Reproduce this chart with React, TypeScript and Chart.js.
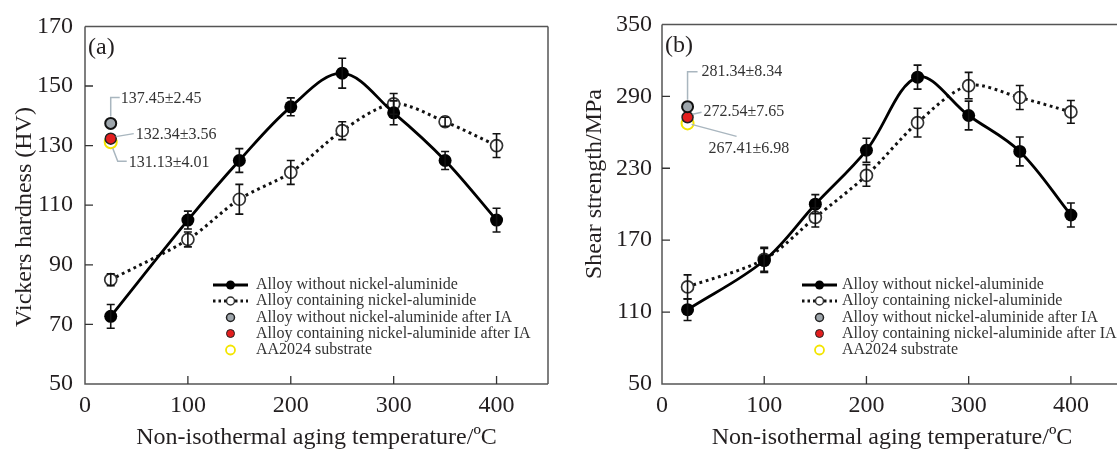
import React, { useEffect, useRef } from 'react';
import { Chart, registerables } from 'chart.js';

Chart.register(...registerables);

// ---------- data ----------
const temperatures = [25, 100, 150, 200, 250, 300, 350, 400];

const hvWithout = [72.7, 105, 125, 143, 154.3, 141, 125, 105];
const hvWithoutErr = [4, 3, 4, 3, 5, 4, 3, 4];
const hvContaining = [85, 98.5, 112, 121, 135, 144, 138, 130];
const hvContainingErr = [2, 2.5, 5, 4, 3, 3.5, 1.5, 4];
const hvAfterIA = [137.45, 132.34, 131.13];
const hvAfterIALabels = ['137.45±2.45', '132.34±3.56', '131.13±4.01'];

const ssWithout = [112, 153, 200, 245, 306, 274, 244, 191];
const ssWithoutErr = [9, 10, 8, 10, 10, 12, 12, 10];
const ssContaining = [131, 154, 189, 224, 268, 299, 289, 277];
const ssContainingErr = [10, 10, 8, 9, 12, 11, 10, 9.5];
const ssAfterIA = [281.34, 272.54, 267.41];
const ssAfterIALabels = ['281.34±8.34', '272.54±7.65', '267.41±6.98'];

const iaTemperature = 25;
const xTickValues = [0, 100, 200, 300, 400];
const hvTickValues = [50, 70, 90, 110, 130, 150, 170];
const ssTickValues = [50, 110, 170, 230, 290, 350];

const legendLabels = [
  'Alloy without nickel-aluminide',
  'Alloy containing nickel-aluminide',
  'Alloy without nickel-aluminide after IA',
  'Alloy containing nickel-aluminide after IA',
  'AA2024 substrate',
];

const xTitle = 'Non-isothermal aging temperature/ºC';

// ---------- styles ----------
const SERIF = "'Liberation Serif', 'Times New Roman', serif";
const TEXT = '#231f20';
const FRAME = '#555';
const LEADER = '#a9b6bf';
const GRAY_FILL = '#9ea6ac';
const RED_FILL = '#e31e1e';
const YELLOW = '#f3e500';

type Annot = { pts: [number, number][]; text: [number, number] };

type PanelCfg = {
  width: number;
  yMin: number;
  yMax: number;
  yTicks: number[];
  without: number[];
  withoutErr: number[];
  containing: number[];
  containingErr: number[];
  ia: number[];
  iaLabels: string[];
  yTitle: string;
  yTitleX: number;
  yTitleY: number;
  panelLabel: string;
  yAxisWidth: number;
  tickPad: number;
  padRight: number;
  showRight: boolean;
  legendX: number;
  legendTextGap: number;
  annots: Annot[];
};

function makeDecor(cfg: PanelCfg) {
  return {
    id: 'decor',
    afterDatasetsDraw(chart: any) {
      const { ctx, scales } = chart;
      const x = scales.x;
      const y = scales.y;
      ctx.save();
      ctx.strokeStyle = '#111';
      ctx.lineWidth = 1.6;
      const groups = [
        [cfg.without, cfg.withoutErr],
        [cfg.containing, cfg.containingErr],
      ];
      groups.forEach(([vals, errs]) => {
        temperatures.forEach((t, i) => {
          const px = x.getPixelForValue(t);
          const top = y.getPixelForValue(vals[i] + errs[i]);
          const bot = y.getPixelForValue(vals[i] - errs[i]);
          ctx.beginPath();
          ctx.moveTo(px, top);
          ctx.lineTo(px, bot);
          ctx.moveTo(px - 4, top);
          ctx.lineTo(px + 4, top);
          ctx.moveTo(px - 4, bot);
          ctx.lineTo(px + 4, bot);
          ctx.stroke();
        });
      });
      ctx.restore();
    },
    afterDraw(chart: any) {
      const { ctx, chartArea: a, scales } = chart;
      const x = scales.x;
      const y = scales.y;
      ctx.save();
      ctx.strokeStyle = FRAME;
      ctx.lineWidth = 1.5;
      ctx.beginPath();
      if (cfg.showRight) {
        ctx.moveTo(a.right, a.top);
        ctx.lineTo(a.right, a.bottom);
      }
      ctx.moveTo(a.left, a.top);
      ctx.lineTo(a.right, a.top);
      ctx.moveTo(a.left, a.top);
      ctx.lineTo(a.left, a.bottom);
      ctx.lineTo(a.right, a.bottom);
      ctx.stroke();
      ctx.strokeStyle = '#333';
      ctx.lineWidth = 1.3;
      ctx.beginPath();
      xTickValues.forEach((v) => {
        if (v === 0) return;
        const px = x.getPixelForValue(v);
        ctx.moveTo(px, a.bottom);
        ctx.lineTo(px, a.bottom - 8);
      });
      cfg.yTicks.forEach((v) => {
        if (v === cfg.yMin || v === cfg.yMax) return;
        const py = y.getPixelForValue(v);
        ctx.moveTo(a.left, py);
        ctx.lineTo(a.left + 8, py);
      });
      ctx.stroke();

      ctx.fillStyle = TEXT;
      ctx.font = `24px ${SERIF}`;
      ctx.textAlign = 'left';
      ctx.textBaseline = 'middle';
      ctx.fillText(cfg.panelLabel, a.left + 3, a.top + 21);

      ctx.save();
      ctx.translate(cfg.yTitleX, cfg.yTitleY);
      ctx.rotate(-Math.PI / 2);
      ctx.textAlign = 'center';
      ctx.textBaseline = 'middle';
      ctx.font = `24px ${SERIF}`;
      ctx.fillText(cfg.yTitle, 0, 0);
      ctx.restore();

      const cx = x.getPixelForValue(iaTemperature);
      ctx.font = `16px ${SERIF}`;
      ctx.textAlign = 'left';
      ctx.textBaseline = 'middle';
      cfg.annots.forEach((an, i) => {
        const cy = y.getPixelForValue(cfg.ia[i]);
        ctx.strokeStyle = LEADER;
        ctx.lineWidth = 1.5;
        ctx.beginPath();
        an.pts.forEach(([dx, dy], k) => {
          if (k === 0) ctx.moveTo(cx + dx, cy + dy);
          else ctx.lineTo(cx + dx, cy + dy);
        });
        ctx.stroke();
        ctx.fillStyle = '#333';
        ctx.fillText(cfg.iaLabels[i], cx + an.text[0], cy + an.text[1]);
      });

      const lx = a.left + cfg.legendX;
      const lineLen = 35;
      const rowY = [285, 301, 317.5, 333.5, 350];
      const mid = lx + lineLen / 2;
      ctx.font = `16px ${SERIF}`;
      ctx.textBaseline = 'middle';
      rowY.forEach((ry, i) => {
        if (i === 0) {
          ctx.strokeStyle = '#000';
          ctx.lineWidth = 3;
          ctx.setLineDash([]);
          ctx.beginPath();
          ctx.moveTo(lx, ry);
          ctx.lineTo(lx + lineLen, ry);
          ctx.stroke();
          ctx.fillStyle = '#000';
          ctx.beginPath();
          ctx.arc(mid, ry, 4.5, 0, Math.PI * 2);
          ctx.fill();
        } else if (i === 1) {
          ctx.strokeStyle = '#111';
          ctx.lineWidth = 2.8;
          ctx.setLineDash([2.5, 3]);
          ctx.beginPath();
          ctx.moveTo(lx, ry);
          ctx.lineTo(lx + lineLen, ry);
          ctx.stroke();
          ctx.setLineDash([]);
          ctx.fillStyle = '#fff';
          ctx.strokeStyle = '#333';
          ctx.lineWidth = 1.5;
          ctx.beginPath();
          ctx.arc(mid, ry, 4, 0, Math.PI * 2);
          ctx.fill();
          ctx.stroke();
        } else if (i === 2) {
          ctx.fillStyle = GRAY_FILL;
          ctx.strokeStyle = '#222';
          ctx.lineWidth = 1.5;
          ctx.beginPath();
          ctx.arc(mid, ry, 4, 0, Math.PI * 2);
          ctx.fill();
          ctx.stroke();
        } else if (i === 3) {
          ctx.fillStyle = RED_FILL;
          ctx.strokeStyle = '#222';
          ctx.lineWidth = 1;
          ctx.beginPath();
          ctx.arc(mid, ry, 4, 0, Math.PI * 2);
          ctx.fill();
          ctx.stroke();
        } else {
          ctx.strokeStyle = YELLOW;
          ctx.lineWidth = 1.8;
          ctx.beginPath();
          ctx.arc(mid, ry, 4.5, 0, Math.PI * 2);
          ctx.stroke();
        }
        ctx.fillStyle = '#333';
        ctx.fillText(legendLabels[i], lx + lineLen + cfg.legendTextGap, ry);
      });
      ctx.restore();
    },
  };
}

function buildConfig(cfg: PanelCfg): any {
  const pts = (vals: number[]) => temperatures.map((t, i) => ({ x: t, y: vals[i] }));
  return {
    type: 'line',
    data: {
      datasets: [
        {
          label: legendLabels[0],
          data: pts(cfg.without),
          borderColor: '#000',
          borderWidth: 2.8,
          tension: 0.35,
          pointRadius: 6.5,
          pointBackgroundColor: '#000',
          pointBorderColor: '#000',
          pointBorderWidth: 0,
        },
        {
          label: legendLabels[1],
          data: pts(cfg.containing),
          borderColor: '#111',
          borderWidth: 3,
          borderDash: [2.8, 3.6],
          tension: 0.3,
          pointRadius: 6,
          pointBackgroundColor: '#fff',
          pointBorderColor: '#333',
          pointBorderWidth: 1.7,
        },
        {
          label: legendLabels[2],
          data: [{ x: iaTemperature, y: cfg.ia[0] }],
          showLine: false,
          pointRadius: 5.5,
          pointBackgroundColor: GRAY_FILL,
          pointBorderColor: '#111',
          pointBorderWidth: 2,
        },
        {
          label: legendLabels[3],
          data: [{ x: iaTemperature, y: cfg.ia[1] }],
          showLine: false,
          pointRadius: 5.5,
          pointBackgroundColor: RED_FILL,
          pointBorderColor: '#222',
          pointBorderWidth: 1.5,
        },
        {
          label: legendLabels[4],
          data: [{ x: iaTemperature, y: cfg.ia[2] }],
          showLine: false,
          pointRadius: 6,
          pointBackgroundColor: 'rgba(0,0,0,0)',
          pointBorderColor: YELLOW,
          pointBorderWidth: 2,
        },
      ],
    },
    options: {
      animation: false,
      responsive: false,
      devicePixelRatio: 1,
      layout: { padding: { top: 23, right: cfg.padRight, left: 0, bottom: 0 } },
      plugins: {
        legend: { display: false },
        tooltip: { enabled: false },
      },
      scales: {
        x: {
          type: 'linear',
          min: 0,
          max: 450,
          afterBuildTicks: (s: any) => {
            s.ticks = xTickValues.map((v) => ({ value: v }));
          },
          afterFit: (s: any) => {
            s.height = 69;
          },
          grid: { display: false, drawTicks: false },
          border: { display: false },
          ticks: {
            padding: 7,
            color: TEXT,
            font: { family: SERIF, size: 24 },
            maxRotation: 0,
          },
          title: {
            display: true,
            text: xTitle,
            color: TEXT,
            font: { family: SERIF, size: 24 },
            padding: { top: 0, bottom: 1 },
          },
        },
        y: {
          type: 'linear',
          min: cfg.yMin,
          max: cfg.yMax,
          afterBuildTicks: (s: any) => {
            s.ticks = cfg.yTicks.map((v) => ({ value: v }));
          },
          afterFit: (s: any) => {
            s.width = cfg.yAxisWidth;
          },
          grid: { display: false, drawTicks: false },
          border: { display: false },
          ticks: {
            padding: cfg.tickPad,
            color: TEXT,
            font: { family: SERIF, size: 24 },
          },
        },
      },
    },
    plugins: [makeDecor(cfg)],
  };
}

const leftCfg: PanelCfg = {
  width: 560,
  yMin: 50,
  yMax: 170,
  yTicks: hvTickValues,
  without: hvWithout,
  withoutErr: hvWithoutErr,
  containing: hvContaining,
  containingErr: hvContainingErr,
  ia: hvAfterIA,
  iaLabels: hvAfterIALabels,
  yTitle: 'Vickers hardness (HV)',
  yTitleX: 25,
  yTitleY: 217,
  panelLabel: '(a)',
  yAxisWidth: 85,
  tickPad: 12,
  padRight: 12,
  showRight: true,
  legendX: 128,
  legendTextGap: 8,
  annots: [
    { pts: [[0, -7], [0, -26], [9, -26]], text: [10, -25] },
    { pts: [[5, -2], [23, -5]], text: [25, -4] },
    { pts: [[2, 6], [7, 19], [16, 19]], text: [18, 21] },
  ],
};

const rightCfg: PanelCfg = {
  width: 570,
  yMin: 50,
  yMax: 350,
  yTicks: ssTickValues,
  without: ssWithout,
  withoutErr: ssWithoutErr,
  containing: ssContaining,
  containingErr: ssContainingErr,
  ia: ssAfterIA,
  iaLabels: ssAfterIALabels,
  yTitle: 'Shear strength/MPa',
  yTitleX: 35,
  yTitleY: 184,
  panelLabel: '(b)',
  yAxisWidth: 102,
  tickPad: 10,
  padRight: 3,
  showRight: false,
  legendX: 140,
  legendTextGap: 5,
  annots: [
    { pts: [[0, -7], [0, -35], [10, -35]], text: [14, -35] },
    { pts: [[5, -3], [14, -5]], text: [16, -5] },
    { pts: [[4, 1], [49, 13]], text: [21, 25] },
  ],
};

function Panel({ cfg, left }: { cfg: PanelCfg; left: number }) {
  const ref = useRef<HTMLCanvasElement | null>(null);
  useEffect(() => {
    if (!ref.current) return;
    const chart = new Chart(ref.current, buildConfig(cfg));
    return () => chart.destroy();
  }, [cfg]);
  return (
    <canvas
      ref={ref}
      width={cfg.width}
      height={453}
      style={{ position: 'absolute', left, top: 0, width: cfg.width, height: 453 }}
    />
  );
}

export default function App() {
  return (
    <div
      style={{
        position: 'fixed',
        left: 0,
        top: 0,
        width: 1117,
        height: 453,
        overflow: 'hidden',
        background: '#fff',
      }}
    >
      <Panel cfg={leftCfg} left={0} />
      <Panel cfg={rightCfg} left={560} />
    </div>
  );
}
